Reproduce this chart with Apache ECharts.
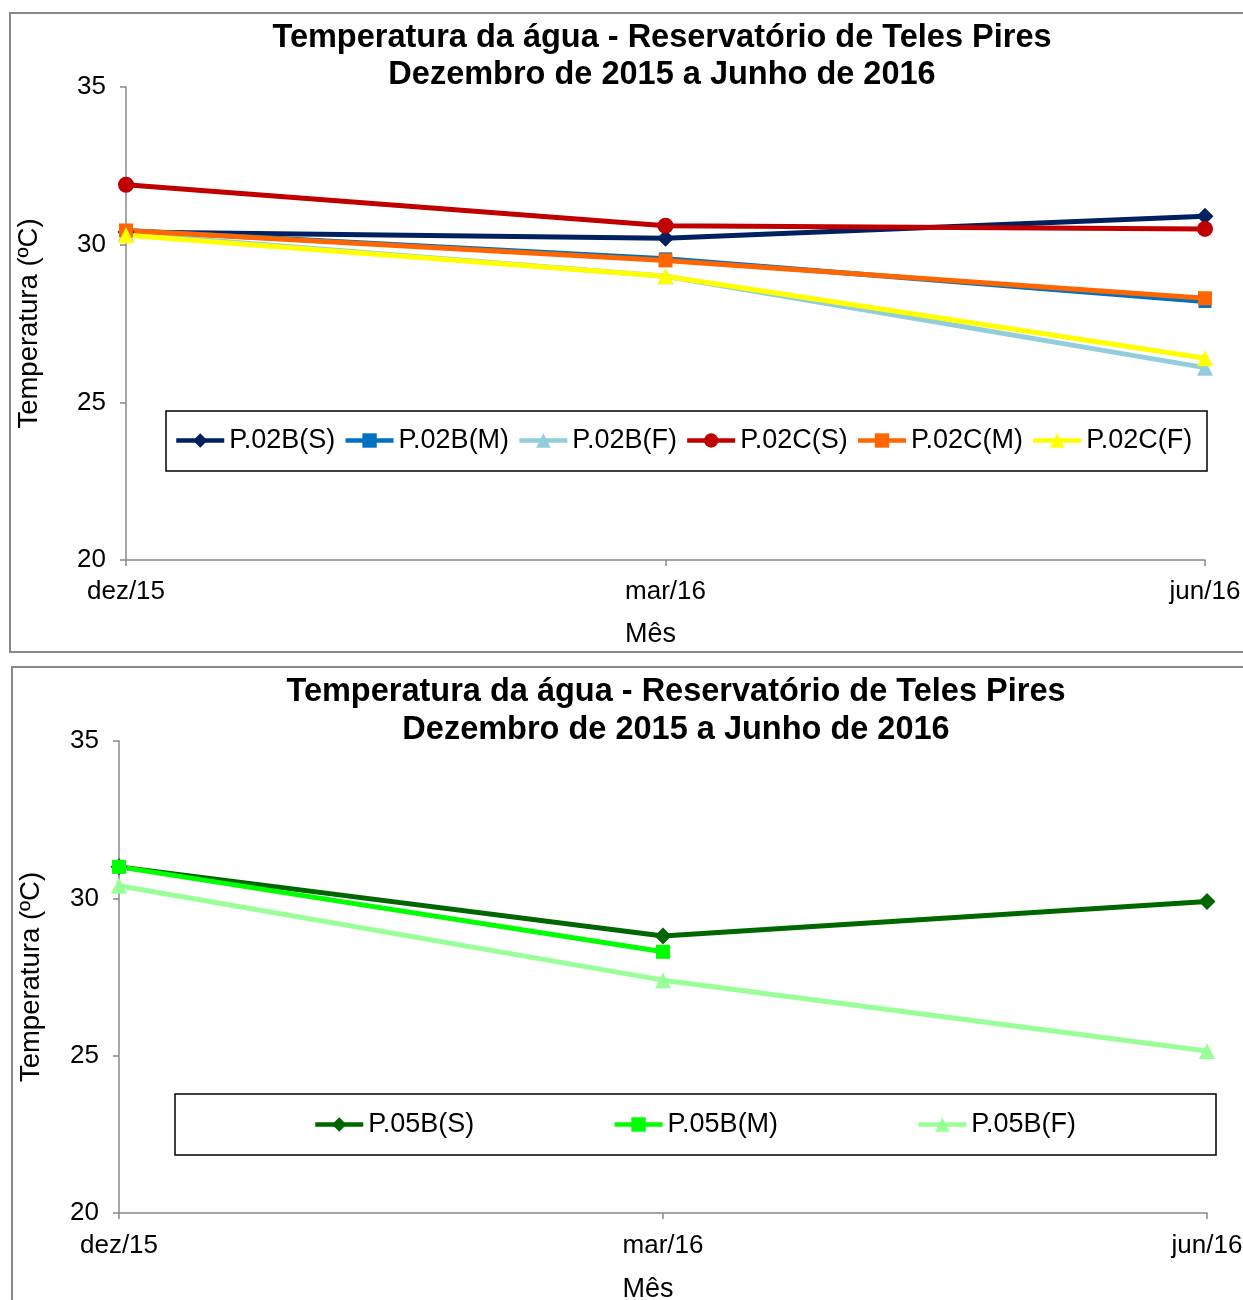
<!DOCTYPE html>
<html>
<head>
<meta charset="utf-8">
<script src="https://cdn.jsdelivr.net/npm/echarts@6/dist/echarts.min.js"></script>
<style>
html,body{margin:0;padding:0;background:#fff;}
#c{width:1243px;height:1300px;}
</style>
</head>
<body>
<div id="c"></div>
<script>
// ---- data ----
const months = ['dez/15', 'mar/16', 'jun/16'];
const yTicks = [20, 25, 30, 35];
const titleText = 'Temperatura da água - Reservatório de Teles Pires\nDezembro de 2015 a Junho de 2016';
const yName = 'Temperatura (ºC)';
const xName = 'Mês';

const p02BS = [30.4, 30.2, 30.9];
const p02BM = [30.45, 29.55, 28.2];
const p02BF = [30.35, 29.0, 26.1];
const p02CS = [31.9, 30.6, 30.5];
const p02CM = [30.45, 29.5, 28.3];
const p02CF = [30.3, 29.0, 26.4];

const p05BS = [31.0, 28.8, 29.9];
const p05BM = [31.0, 28.3, null];
const p05BF = [30.4, 27.4, 25.15];

const topNames = ['P.02B(S)', 'P.02B(M)', 'P.02B(F)', 'P.02C(S)', 'P.02C(M)', 'P.02C(F)'];
const botNames = ['P.05B(S)', 'P.05B(M)', 'P.05B(F)'];

// ---- chart ----
const FONT = '"Liberation Sans", Arial, sans-serif';
const chart = echarts.init(document.getElementById('c'), null, {renderer: 'canvas'});

function xAxis(gi, margin, gap) {
  return {
    type: 'category', gridIndex: gi, data: months, boundaryGap: false,
    axisLine: {lineStyle: {color: '#888', width: 1.5}},
    axisTick: {show: true, length: 6, lineStyle: {color: '#888', width: 1.5}},
    axisLabel: {color: '#000', fontSize: 26, fontFamily: FONT, margin: margin, showMinLabel: true, showMaxLabel: true},
    name: xName, nameLocation: 'middle', nameGap: gap,
    nameTextStyle: {color: '#000', fontSize: 27, fontFamily: FONT, padding: [0, 30, 0, 0]},
    splitLine: {show: false}
  };
}
function yAxis(gi, gap) {
  return {
    type: 'value', gridIndex: gi, min: yTicks[0], max: yTicks[yTicks.length - 1], interval: 5,
    axisLine: {show: true, lineStyle: {color: '#888', width: 1.5}},
    axisTick: {show: true, length: 6, lineStyle: {color: '#888', width: 1.5}},
    axisLabel: {color: '#000', fontSize: 26, fontFamily: FONT, margin: 20},
    name: yName, nameLocation: 'middle', nameGap: gap, nameRotate: 90,
    nameTextStyle: {color: '#000', fontSize: 27.5, fontFamily: FONT},
    splitLine: {show: false}
  };
}
function line(name, data, color, symbol, size, gi) {
  return {
    name: name, type: 'line', data: data, xAxisIndex: gi, yAxisIndex: gi,
    symbol: symbol, symbolSize: size, showSymbol: true, connectNulls: false,
    lineStyle: {color: color, width: 5},
    itemStyle: {color: color},
    animation: false, z: 3
  };
}

const option = {
  backgroundColor: '#fff',
  animation: false,
  title: [
    {text: titleText, left: 662, top: 20, padding: 0, textAlign: 'center',
     textStyle: {fontSize: 32.5, fontWeight: 'bold', color: '#000', fontFamily: FONT, lineHeight: 37}},
    {text: titleText, left: 676, top: 673, padding: 0, textAlign: 'center',
     textStyle: {fontSize: 32.5, fontWeight: 'bold', color: '#000', fontFamily: FONT, lineHeight: 38}}
  ],
  grid: [
    {left: 126, top: 87, right: 38, height: 473, containLabel: false, outerBoundsMode: 'none'},
    {left: 119, top: 741, right: 36, height: 472, containLabel: false, outerBoundsMode: 'none'}
  ],
  xAxis: [xAxis(0, 19, 61), xAxis(1, 20, 63)],
  yAxis: [yAxis(0, 83), yAxis(1, 74)],
  legend: [
    {data: topNames, left: 174, top: 427, padding: 0, itemGap: 8, itemWidth: 48, itemHeight: 18,
     textStyle: {fontSize: 27, color: '#000', fontFamily: FONT}, lineStyle: {width: 4.5}},
    {data: botNames, left: 313, top: 1111, padding: 0, itemGap: 138, itemWidth: 48, itemHeight: 18,
     textStyle: {fontSize: 27, color: '#000', fontFamily: FONT}, lineStyle: {width: 4.5}}
  ],
  graphic: [
    {type: 'rect', shape: {x: 10, y: 13, width: 1260, height: 639}, style: {fill: 'none', stroke: '#888', lineWidth: 2}, silent: true, z: -10},
    {type: 'rect', shape: {x: 12, y: 667, width: 1260, height: 660}, style: {fill: 'none', stroke: '#888', lineWidth: 2}, silent: true, z: -10},
    {type: 'rect', shape: {x: 166, y: 411, width: 1041, height: 60}, style: {fill: '#fff', stroke: '#000', lineWidth: 1.5}, silent: true, z: -5},
    {type: 'rect', shape: {x: 175, y: 1094, width: 1041, height: 61}, style: {fill: '#fff', stroke: '#000', lineWidth: 1.5}, silent: true, z: -5}
  ],
  series: [
    line(topNames[0], p02BS, '#002060', 'diamond', 17, 0),
    line(topNames[1], p02BM, '#0070C0', 'rect', 13, 0),
    line(topNames[2], p02BF, '#92CDDC', 'triangle', 16, 0),
    line(topNames[3], p02CS, '#C00000', 'circle', 16, 0),
    line(topNames[4], p02CM, '#FF6600', 'rect', 14, 0),
    line(topNames[5], p02CF, '#FFFF00', 'triangle', 16, 0),
    line(botNames[0], p05BS, '#006600', 'diamond', 17, 1),
    line(botNames[1], p05BM, '#00FF00', 'rect', 14, 1),
    line(botNames[2], p05BF, '#99FF99', 'triangle', 16, 1)
  ]
};
chart.setOption(option);
</script>
</body>
</html>
